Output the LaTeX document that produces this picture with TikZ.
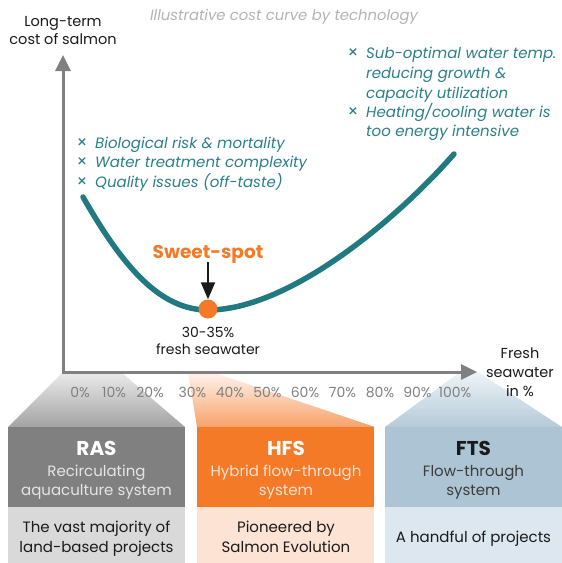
\documentclass[tikz,border=0pt]{standalone}
\usepackage{fontspec}
\setmainfont{Poppins}
\usetikzlibrary{arrows.meta}
\definecolor{curveteal}{HTML}{217A80}
\definecolor{textteal}{HTML}{2B8087}
\definecolor{spotorange}{HTML}{F47A28}
\definecolor{axisgray}{HTML}{808080}
\definecolor{titlegray}{HTML}{B3B3B3}
\definecolor{tickgray}{HTML}{808080}
\definecolor{inkblack}{HTML}{1A1A1A}
\definecolor{rasdark}{HTML}{808080}
\definecolor{raslight}{HTML}{D9D9D9}
\definecolor{hfsdark}{HTML}{F47A28}
\definecolor{hfslight}{HTML}{FDE3D3}
\definecolor{ftsdark}{HTML}{ADC4D4}
\definecolor{ftslight}{HTML}{DDE7EF}
\newcommand\setfs[1]{\fontsize{#1}{#1}\selectfont}
\begin{document}
\begin{tikzpicture}[x=1pt,y=-1pt,
  txt/.style={inner sep=0pt, anchor=base},
  axisline/.style={draw=axisgray, line width=3pt, line join=miter,
     {Triangle[length=16pt,width=15pt]}-{Triangle[length=16pt,width=15pt]}},
  curveline/.style={draw=curveteal, line width=5.5pt, line cap=round},
  bullet/.style={txt, anchor=base west, text=textteal, font=\setfs{15}\itshape},
  bx/.style={txt, text=textteal, font=\setfs{17}},
  tick/.style={txt, text=tickgray, font=\setfs{14}},
  label/.style={txt, text=inkblack, font=\setfs{14.5}},
  boxrect/.style={draw=none, inner sep=0pt, minimum width=177pt, anchor=north west},
  boxtitle/.style={txt, font=\setfs{20}\bfseries},
  boxsub/.style={txt, font=\setfs{15}},
]
\useasboundingbox (0,0) rectangle (562,563);

% gradient trapezoids
\shade[top color=black!8, bottom color=black!36] (63,372) -- (121,372) -- (185,427) -- (8,427) -- cycle;
\shade[top color=hfslight!40, bottom color=spotorange!70] (188,372) -- (212,372) -- (375,427) -- (197,427) -- cycle;
\shade[top color=ftslight!50, bottom color=ftsdark!90] (460,372) -- (478,372) -- (562,427) -- (385,427) -- cycle;

% title
\node[txt, text=titlegray, font=\setfs{14.8}\itshape] (title) at (284,20) {Illustrative cost curve by technology};

% axis labels
\node[label] (yl1) at (63,26) {Long-term};
\node[label] (yl2) at (63,44) {cost of salmon};
\node[label] (xl1) at (520,358) {Fresh};
\node[label] (xl2) at (520,377) {seawater};
\node[label] (xl3) at (520,396) {in \%};

% axes
\coordinate (ytop) at (63,55);
\coordinate (origin) at (63,372);
\coordinate (xend) at (477,372);
\draw[axisline] (ytop) -- (origin) -- (xend);

% ticks
\node[tick] (t0) at (80,397) {0\%};
\node[tick] (t10) at (114,397) {10\%};
\node[tick] (t20) at (150,397) {20\%};
\node[tick] (t30) at (192.5,397) {30\%};
\node[tick] (t40) at (230,397) {40\%};
\node[tick] (t50) at (267.5,397) {50\%};
\node[tick] (t60) at (305,397) {60\%};
\node[tick] (t70) at (342.5,397) {70\%};
\node[tick] (t80) at (380,397) {80\%};
\node[tick] (t90) at (417.5,397) {90\%};
\node[tick] (t100) at (455,397) {100\%};

% left bullets
\node[bx] (lb1x) at (82,148) {×};
\node[bx] (lb2x) at (82,167) {×};
\node[bx] (lb3x) at (82,187) {×};
\node[bullet] (lb1) at (95,148) {Biological risk \& mortality};
\node[bullet] (lb2) at (95,167) {Water treatment complexity};
\node[bullet] (lb3) at (95,187) {Quality issues (off-taste)};

% right bullets
\node[bx] (rb1x) at (353,58) {×};
\node[bx] (rb2x) at (353,117) {×};
\node[bullet] (rb1) at (366,58) {Sub-optimal water temp.};
\node[bullet] (rb1b) at (366,78) {reducing growth \&};
\node[bullet] (rb1c) at (366,98) {capacity utilization};
\node[bullet] (rb2) at (366,117) {Heating/cooling water is};
\node[bullet] (rb2b) at (366,136) {too energy intensive};

% curve
\coordinate (cstart) at (83,197);
\coordinate (cmin) at (208,310);
\coordinate (cend) at (454,154);
\draw[curveline] (cstart) .. controls (123,267) and (160,310) .. (cmin)
                          .. controls (290,310) and (398,218) .. (cend);

% sweet spot
\node[circle, fill=spotorange, minimum size=19pt, inner sep=0pt] (dot) at (208,309) {};
\node[txt, text=spotorange, font=\setfs{18.5}\bfseries] (sweet) at (208,258) {Sweet-spot};
\coordinate (arrowstart) at (208,262);
\draw[inkblack, line width=2pt, -{Triangle[length=17pt,width=14pt]}] (arrowstart) -- (dot.north);
\node[label, font=\setfs{14}] (pct) at (208,337) {30-35\%};
\node[label, font=\setfs{14}] (fsw) at (208,354) {fresh seawater};

% boxes
\node[boxrect, fill=rasdark, minimum height=80pt] (rasTop) at (8,427) {};
\node[boxrect, fill=raslight, minimum height=56pt] (rasBot) at (8,507) {};
\node[boxrect, fill=hfsdark, minimum height=80pt] (hfsTop) at (197,427) {};
\node[boxrect, fill=hfslight, minimum height=56pt] (hfsBot) at (197,507) {};
\node[boxrect, fill=ftsdark, minimum height=80pt] (ftsTop) at (385,427) {};
\node[boxrect, fill=ftslight, minimum height=56pt] (ftsBot) at (385,507) {};

\node[boxtitle, text=white] (rasT) at (96.5,455) {RAS};
\node[boxsub, text=white!90!black] (rasS1) at (96.5,476) {Recirculating};
\node[boxsub, text=white!90!black] (rasS2) at (96.5,495) {aquaculture system};
\node[boxsub, text=inkblack] (rasB1) at (96.5,532) {The vast majority of};
\node[boxsub, text=inkblack] (rasB2) at (96.5,552) {land-based projects};

\node[boxtitle, text=white] (hfsT) at (286,455) {HFS};
\node[boxsub, text=hfslight] (hfsS1) at (286,476) {Hybrid flow-through};
\node[boxsub, text=hfslight] (hfsS2) at (286,495) {system};
\node[boxsub, text=inkblack] (hfsB1) at (286,532) {Pioneered by};
\node[boxsub, text=inkblack] (hfsB2) at (286,552) {Salmon Evolution};

\node[boxtitle, text=inkblack] (ftsT) at (473.5,455) {FTS};
\node[boxsub, text=inkblack!85] (ftsS1) at (473.5,476) {Flow-through};
\node[boxsub, text=inkblack!85] (ftsS2) at (473.5,495) {system};
\node[boxsub, text=inkblack] (ftsB1) at (473.5,542) {A handful of projects};
\end{tikzpicture}
\end{document}
